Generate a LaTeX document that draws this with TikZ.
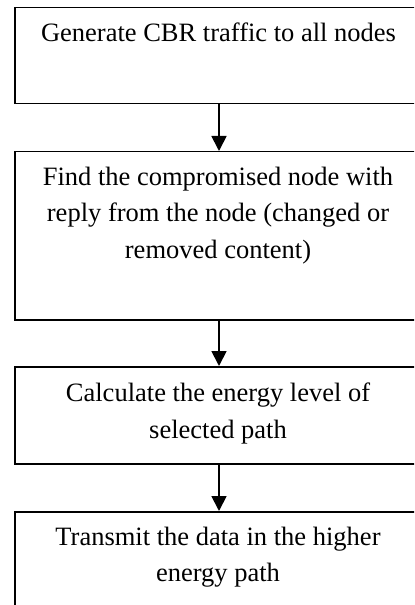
\documentclass[tikz,border=0pt]{standalone}
\usepackage{fontspec}
\setmainfont{Liberation Serif}
\usetikzlibrary{arrows.meta}
\begin{document}
\begin{tikzpicture}[x=1bp,y=-1bp,
  stepbox/.style={draw,line width=1.5bp,rectangle,inner sep=0pt,anchor=north west},
  steptext/.style={align=center,inner sep=0pt,font=\fontsize{26.6}{36.6}\selectfont},
  flow/.style={line width=1.8bp,-{Triangle[width=15bp,length=15bp]}}]
\useasboundingbox (0,0) rectangle (414,605);
\clip (0,0) rectangle (414,605);
\node[stepbox,minimum width=410bp,minimum height=96bp] (b1) at (14,7) {};
\node[stepbox,minimum width=410bp,minimum height=168bp] (b2) at (14,151) {};
\node[stepbox,minimum width=410bp,minimum height=97bp] (b3) at (14,366) {};
\node[stepbox,minimum width=410bp,minimum height=120bp] (b4) at (14,511) {};
\node[steptext,anchor=base] (t1) at (218.5,42) {Generate CBR traffic to all nodes};
\node[steptext,anchor=base] (t2) at (218,258) {Find the compromised node with\\reply from the node (changed or\\removed content)};
\node[steptext,anchor=base] (t3) at (218,438.3) {Calculate the energy level of\\selected path};
\node[steptext,anchor=base] (t4) at (218,581.7) {Transmit the data in the higher\\energy path};
\draw[flow] (b1.south -| 219,0) -- (b2.north -| 219,0);
\draw[flow] (b2.south -| 219,0) -- (b3.north -| 219,0);
\draw[flow] (b3.south -| 219,0) -- (b4.north -| 219,0);
\end{tikzpicture}
\end{document}
